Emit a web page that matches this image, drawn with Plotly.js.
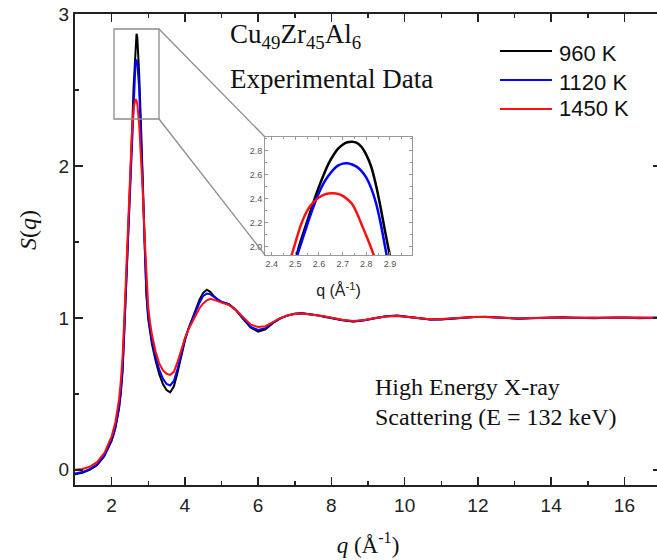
<!DOCTYPE html>
<html>
<head>
<meta charset="utf-8">
<script src="https://cdn.plot.ly/plotly-3.0.1.min.js"></script>
<style>
html,body{margin:0;padding:0;background:#fff;overflow:hidden;width:657px;height:560px;}
#chart{width:662px;height:560px;}
</style>
</head>
<body>
<div id="chart"></div>
<script>
// ---- main data: q in 1/Angstrom, S(q) ----
const q = [1.0,1.2,1.4,1.6,1.8,1.9,2.0,2.1,2.2,2.25,2.3,2.35,2.4,2.45,2.5,2.55,2.6,2.65,2.68,2.7,2.75,2.8,2.85,2.9,2.95,3.0,3.05,3.1,3.2,3.3,3.4,3.5,3.6,3.7,3.8,3.9,4.0,4.1,4.2,4.3,4.4,4.5,4.6,4.7,4.8,4.9,5.0,5.2,5.4,5.6,5.8,6.0,6.2,6.4,6.6,6.8,7.0,7.2,7.4,7.6,7.8,8.0,8.3,8.6,8.9,9.2,9.5,9.8,10.1,10.4,10.7,11.0,11.3,11.6,11.9,12.2,12.5,12.8,13.1,13.4,13.7,14.0,14.3,14.6,14.9,15.2,15.5,15.8,16.1,16.4,16.7,17.0];

const s960 = [-0.03,-0.02,0.0,0.03,0.09,
  0.14,0.19,0.27,0.40,0.50,
  0.65,0.93,1.22,1.52,1.83,
  2.17,2.52,2.78,2.87,2.85,
  2.62,2.28,1.9,1.47,1.15,
  0.99,0.9,0.83,0.72,0.63,
  0.565,0.525,0.51,0.55,0.64,
  0.75,0.85,0.93,0.995,1.06,
  1.12,1.165,1.185,1.17,1.14,
  1.12,1.105,1.09,1.05,0.99,
  0.935,0.91,0.925,0.965,0.995,
  1.015,1.027,1.03,1.025,1.018,
  1.008,0.998,0.985,0.976,0.984,
  0.998,1.01,1.015,1.006,0.995,
  0.989,0.99,0.996,1.002,1.006,
  1.007,1.002,0.997,0.995,0.998,
  1.001,1.004,1.004,1.001,0.998,
  0.998,1.001,1.003,1.0,0.998,
  1.0,1.001];

const s1120 = [-0.025,-0.015,0.005,0.035,0.095,
  0.145,0.2,0.28,0.41,0.52,
  0.67,0.95,1.24,1.54,1.85,
  2.17,2.48,2.67,2.70,2.68,
  2.52,2.22,1.87,1.48,1.17,
  1.01,0.92,0.85,0.745,0.66,
  0.6,0.565,0.555,0.585,0.665,
  0.77,0.86,0.93,0.99,1.05,
  1.1,1.145,1.16,1.155,1.135,
  1.12,1.105,1.09,1.05,0.995,
  0.94,0.92,0.932,0.968,0.997,
  1.016,1.027,1.03,1.026,1.018,
  1.009,0.999,0.986,0.977,0.985,
  0.999,1.01,1.014,1.006,0.996,
  0.99,0.991,0.996,1.002,1.005,
  1.006,1.002,0.997,0.996,0.998,
  1.001,1.003,1.003,1.001,0.999,
  0.998,1.0,1.002,1.0,0.999,
  1.0,1.0];

const s1450 = [0.0,0.005,0.02,0.05,0.11,
  0.16,0.22,0.31,0.46,0.58,
  0.75,1.02,1.32,1.63,1.95,
  2.2,2.38,2.44,2.43,2.41,
  2.28,2.08,1.83,1.54,1.26,
  1.07,0.97,0.89,0.78,0.7,
  0.655,0.632,0.625,0.645,0.71,
  0.79,0.865,0.925,0.975,1.025,
  1.065,1.095,1.115,1.125,1.12,
  1.11,1.1,1.085,1.05,1.0,
  0.955,0.94,0.945,0.972,0.998,
  1.015,1.025,1.028,1.025,1.018,
  1.01,1.0,0.988,0.98,0.986,
  0.999,1.009,1.013,1.006,0.997,
  0.991,0.992,0.997,1.002,1.005,
  1.006,1.002,0.998,0.996,0.999,
  1.001,1.003,1.003,1.001,0.999,
  0.998,1.0,1.002,1.0,0.999,
  1.0,1.0];

// ---- inset (zoom on first peak) ----
const insetQ = [2.48,2.50,2.52,2.54,2.56,2.58,2.60,2.62,2.64,2.66,2.68,2.70,2.72,2.74,2.76,2.78,2.80,2.82,2.84,2.86,2.88,2.90,2.92];
const inset960  = [1.76,1.89,2.03,2.15,2.27,2.39,2.5,2.6,2.69,2.76,2.815,2.85,2.87,2.875,2.865,2.83,2.765,2.67,2.52,2.33,2.12,1.92,1.72];
const inset1120 = [1.76,1.88,2.0,2.12,2.24,2.35,2.45,2.53,2.59,2.64,2.675,2.692,2.695,2.685,2.665,2.63,2.575,2.49,2.37,2.2,1.99,1.78,1.58];
const inset1450 = [1.9,2.03,2.16,2.26,2.33,2.378,2.41,2.432,2.443,2.445,2.44,2.423,2.395,2.355,2.28,2.185,2.09,1.99,1.88,1.76,1.64,1.52,1.4];

const seriesNames = ['960 K','1120 K','1450 K'];
const colors = ['#000000','#0000ff','#ff1010'];
const mainS = [s960, s1120, s1450];
const insetS = [inset960, inset1120, inset1450];

const traces = [];
for (let i = 0; i < 3; i++) {
  traces.push({x: q, y: mainS[i], type: 'scatter', mode: 'lines', name: seriesNames[i],
    line: {color: colors[i], width: 2}, showlegend: false, xaxis: 'x', yaxis: 'y'});
}
for (let i = 0; i < 3; i++) {
  traces.push({x: insetQ, y: insetS[i], type: 'scatter', mode: 'lines', name: seriesNames[i],
    line: {color: colors[i], width: 2.5, shape: 'spline', smoothing: 0.8}, showlegend: false, xaxis: 'x2', yaxis: 'y2'});
}

const serif = 'Liberation Serif, Times New Roman, serif';
const sans = 'Liberation Sans, Arial, sans-serif';

// pixel helpers -> data coords of main axes
const L = 75, PW = 586, T = 14, PH = 471;
const xr = [1, 17], yr = [-0.1, 3];
const px2x = p => xr[0] + (p - L) / PW * (xr[1] - xr[0]);
const px2y = p => yr[1] - (p - T) / PH * (yr[1] - yr[0]);

const shapes = [
  // zoom box
  {type: 'rect', xref: 'x', yref: 'y', x0: px2x(114), x1: px2x(159), y0: px2y(119), y1: px2y(29),
   line: {color: '#8c8c8c', width: 1.3}},
  {type: 'line', xref: 'x', yref: 'y', x0: px2x(159), y0: px2y(29), x1: px2x(265), y1: px2y(137),
   line: {color: '#8c8c8c', width: 1.3}},
  {type: 'line', xref: 'x', yref: 'y', x0: px2x(159), y0: px2y(119), x1: px2x(265), y1: px2y(255),
   line: {color: '#8c8c8c', width: 1.3}}
];
const legY = [51, 80, 109];
const legTY = [53, 82, 108];
const annotations = [];
for (let i = 0; i < 3; i++) {
  shapes.push({type: 'line', xref: 'x', yref: 'y', x0: px2x(500), x1: px2x(552), y0: px2y(legY[i]), y1: px2y(legY[i]),
    line: {color: colors[i], width: 2}});
  annotations.push({xref: 'x', yref: 'y', x: px2x(557), y: px2y(legTY[i]), xanchor: 'left', yanchor: 'middle',
    text: seriesNames[i], showarrow: false, font: {family: sans, size: 22, color: '#111'}});
}
annotations.push(
  {xref: 'x', yref: 'y', x: px2x(228), y: px2y(36), xanchor: 'left', yanchor: 'middle', showarrow: false,
   text: 'Cu<sub>49</sub>Zr<sub>45</sub>Al<sub>6</sub>', font: {family: serif, size: 27, color: '#111'}},
  {xref: 'x', yref: 'y', x: px2x(228), y: px2y(79), xanchor: 'left', yanchor: 'middle', showarrow: false,
   text: 'Experimental Data', font: {family: serif, size: 27, color: '#111'}},
  {xref: 'x', yref: 'y', x: px2x(373), y: px2y(387), xanchor: 'left', yanchor: 'middle', showarrow: false,
   text: 'High Energy X-ray', font: {family: serif, size: 24, color: '#111'}},
  {xref: 'x', yref: 'y', x: px2x(373), y: px2y(417), xanchor: 'left', yanchor: 'middle', showarrow: false,
   text: 'Scattering (E = 132 keV)', font: {family: serif, size: 24, color: '#111'}},
  {xref: 'paper', yref: 'paper', x: (28 - L) / PW, y: (T + PH - 230) / PH, xanchor: 'center', yanchor: 'middle',
   showarrow: false, textangle: -90, text: '<i>S</i>(<i>q</i>)', font: {family: serif, size: 24, color: '#111'}}
);

const layout = {
  width: 662, height: 560,
  margin: {l: L, r: 662 - L - PW, t: T, b: 560 - T - PH},
  paper_bgcolor: '#fff', plot_bgcolor: '#fff',
  showlegend: false,
  xaxis: {range: xr, tick0: 0, dtick: 2, ticks: 'inside', ticklen: 8, tickwidth: 1.5, tickcolor: '#222',
    showline: true, linewidth: 2, linecolor: '#222', mirror: 'ticks', showgrid: false, zeroline: false,
    minor: {dtick: 1, ticks: 'inside', ticklen: 4, tickwidth: 1.5, tickcolor: '#222', showgrid: false},
    ticklabelstandoff: 2,
    tickfont: {family: sans, size: 19, color: '#222'},
    title: {text: '<i>q</i> (Å<sup>-1</sup>)', font: {family: serif, size: 23, color: '#111'}, standoff: 22}},
  yaxis: {range: yr, tick0: 0, dtick: 1, ticks: 'inside', ticklen: 8, tickwidth: 1.5, tickcolor: '#222',
    showline: true, linewidth: 2, linecolor: '#222', mirror: 'ticks', showgrid: false, zeroline: false,
    minor: {dtick: 0.5, ticks: 'inside', ticklen: 4, tickwidth: 1.5, tickcolor: '#222', showgrid: false},
    tickfont: {family: sans, size: 19, color: '#222'}},
  xaxis2: {domain: [(265 - L) / PW, (412 - L) / PW], anchor: 'y2', range: [2.372, 2.993], tick0: 2.4, dtick: 0.1,
    tickformat: '.1f', ticks: 'inside', ticklen: 3, tickwidth: 1, tickcolor: '#999',
    showline: true, linewidth: 1, linecolor: '#999', mirror: 'ticks', showgrid: false, zeroline: false,
    minor: {dtick: 0.05, ticks: 'inside', ticklen: 2, tickwidth: 1, tickcolor: '#999', showgrid: false},
    tickfont: {family: sans, size: 9, color: '#555'},
    title: {text: 'q (Å<sup>-1</sup>)', font: {family: sans, size: 16, color: '#222'}, standoff: 17}},
  yaxis2: {domain: [(T + PH - 255) / PH, (T + PH - 137) / PH], anchor: 'x2', range: [1.93, 2.914], tick0: 2.0, dtick: 0.2,
    tickformat: '.1f', ticks: 'inside', ticklen: 3, tickwidth: 1, tickcolor: '#999',
    showline: true, linewidth: 1, linecolor: '#999', mirror: 'ticks', showgrid: false, zeroline: false,
    minor: {dtick: 0.1, ticks: 'inside', ticklen: 2, tickwidth: 1, tickcolor: '#999', showgrid: false},
    tickfont: {family: sans, size: 9, color: '#555'}},
  shapes: shapes,
  annotations: annotations
};

Plotly.newPlot('chart', traces, layout, {staticPlot: true, displayModeBar: false});
</script>
</body>
</html>
